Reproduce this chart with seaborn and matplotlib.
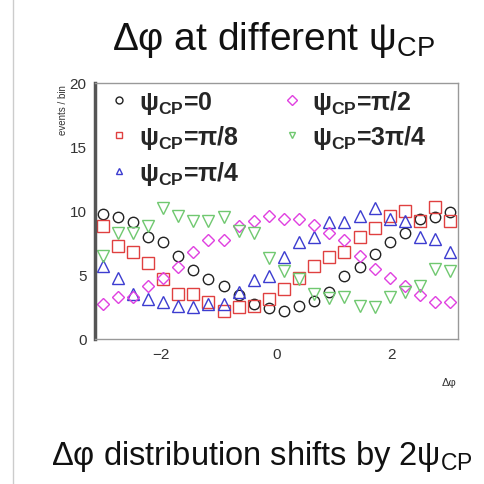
import numpy as np
import pandas as pd
import matplotlib
matplotlib.use("Agg")
import matplotlib.pyplot as plt
import seaborn as sns
from matplotlib.lines import Line2D

# ---- data ----
n_bins = 24
dphi = (np.arange(n_bins) + 0.5) * (2 * np.pi / n_bins) - np.pi

psi0 = [9.8, 9.5, 9.1, 8.0, 7.6, 6.5, 5.4, 4.7, 4.1, 3.4, 2.7, 2.4,
        2.2, 2.6, 3.0, 3.7, 4.9, 5.6, 6.6, 7.6, 8.3, 9.4, 9.5, 9.9]
psi_pi8 = [8.8, 7.3, 6.8, 5.9, 4.7, 3.5, 3.5, 2.9, 2.2, 2.5, 2.6, 3.1,
           3.9, 4.8, 5.7, 6.4, 6.8, 8.0, 8.7, 9.6, 10.0, 9.2, 10.3, 9.2]
psi_pi4 = [5.7, 4.8, 3.5, 3.1, 2.9, 2.6, 2.5, 2.7, 2.7, 3.7, 4.6, 4.9,
           6.4, 7.6, 8.0, 9.1, 9.1, 9.6, 10.2, 9.4, 9.2, 8.0, 7.8, 6.8]
psi_pi2 = [2.7, 3.3, 3.3, 4.1, 4.8, 5.6, 6.8, 7.7, 7.7, 8.8, 9.2, 9.6,
           9.4, 9.4, 8.9, 8.3, 7.7, 6.5, 5.5, 4.8, 4.1, 3.4, 2.9, 2.9]
psi_3pi4 = [6.5, 8.3, 8.3, 8.8, 10.2, 9.6, 9.2, 9.2, 9.5, 8.4, 8.3, 6.3,
            5.3, 4.7, 3.5, 3.2, 3.3, 2.6, 2.5, 3.3, 3.7, 4.1, 5.5, 5.3]

labels = ['$\\psi_{CP}$=0',
          '$\\psi_{CP}$=\u03c0/8',
          '$\\psi_{CP}$=\u03c0/4',
          '$\\psi_{CP}$=\u03c0/2',
          '$\\psi_{CP}$=3\u03c0/4']
series = [psi0, psi_pi8, psi_pi4, psi_pi2, psi_3pi4]
colors = ['#222222', '#e04040', '#3c3cd0', '#e040e0', '#70c870']
markers = ['o', 's', '^', 'D', 'v']
msizes = [7.5, 8, 8, 6, 8]

x_ticks = [-2, 0, 2]
y_ticks = [0, 5, 10, 15, 20]

# ---- plot ----
sns.set_theme(style="white")
plt.rcParams['font.family'] = ['Liberation Sans', 'DejaVu Sans']
plt.rcParams['mathtext.fontset'] = 'dejavusans'
plt.rcParams['mathtext.default'] = 'regular'

fig = plt.figure(figsize=(4.85, 4.85), dpi=100)
ax = fig.add_axes([0.196, 0.299, 0.748, 0.528])

for vals, lab, c, m, ms in zip(series, labels, colors, markers, msizes):
    df = pd.DataFrame({'dphi': dphi, 'events': vals})
    sns.lineplot(data=df, x='dphi', y='events', ax=ax, label=lab,
                 linestyle='', marker=m, markersize=ms,
                 markerfacecolor='none', markeredgecolor=c,
                 markeredgewidth=1.0, color=c)

ax.set_xlim(-np.pi, np.pi)
ax.set_ylim(0, 20)
ax.set_xticks(x_ticks)
ax.set_yticks(y_ticks)
ax.set_xticklabels(['\u22122', '0', '2'])
ax.tick_params(direction='in', length=6, width=1, colors='#444444',
               labelsize=11, labelcolor='#333333', pad=6)
ax.set_xlabel('')
ax.set_ylabel('')

for s in ['top', 'right', 'bottom']:
    ax.spines[s].set_color('#999999')
    ax.spines[s].set_linewidth(1.0)
ax.spines['left'].set_color('#555555')
ax.spines['left'].set_linewidth(2.5)

fig.text(0.13, 0.825, 'events / bin', rotation=90, ha='center', va='top',
         fontsize=7, color='#333333')
fig.text(0.925, 0.21, '\u0394\u03c6', ha='center', va='center',
         fontsize=8, color='#333333')

leg = ax.legend(ncol=2, frameon=False, loc='upper left',
                bbox_to_anchor=(-0.01, 1.04),
                prop={'size': 18, 'weight': 'bold'},
                handletextpad=0.3, columnspacing=1.6, labelspacing=0.3,
                handlelength=1.0, borderaxespad=0.2)
for h in leg.legend_handles:
    h.set_markersize(5)

fig.text(0.563, 0.918, '\u0394\u03c6 at different $\\psi_{CP}$',
         ha='center', va='center', fontsize=28, color='#111111')
fig.text(0.54, 0.058, '\u0394\u03c6 distribution shifts by 2$\\psi_{CP}$',
         ha='center', va='center', fontsize=23.5, color='#111111')

fig.add_artist(Line2D([0.026, 0.026], [0.0, 1.0], transform=fig.transFigure,
                      color='#cccccc', linewidth=1.0))

fig.savefig('out.png', dpi=100)
